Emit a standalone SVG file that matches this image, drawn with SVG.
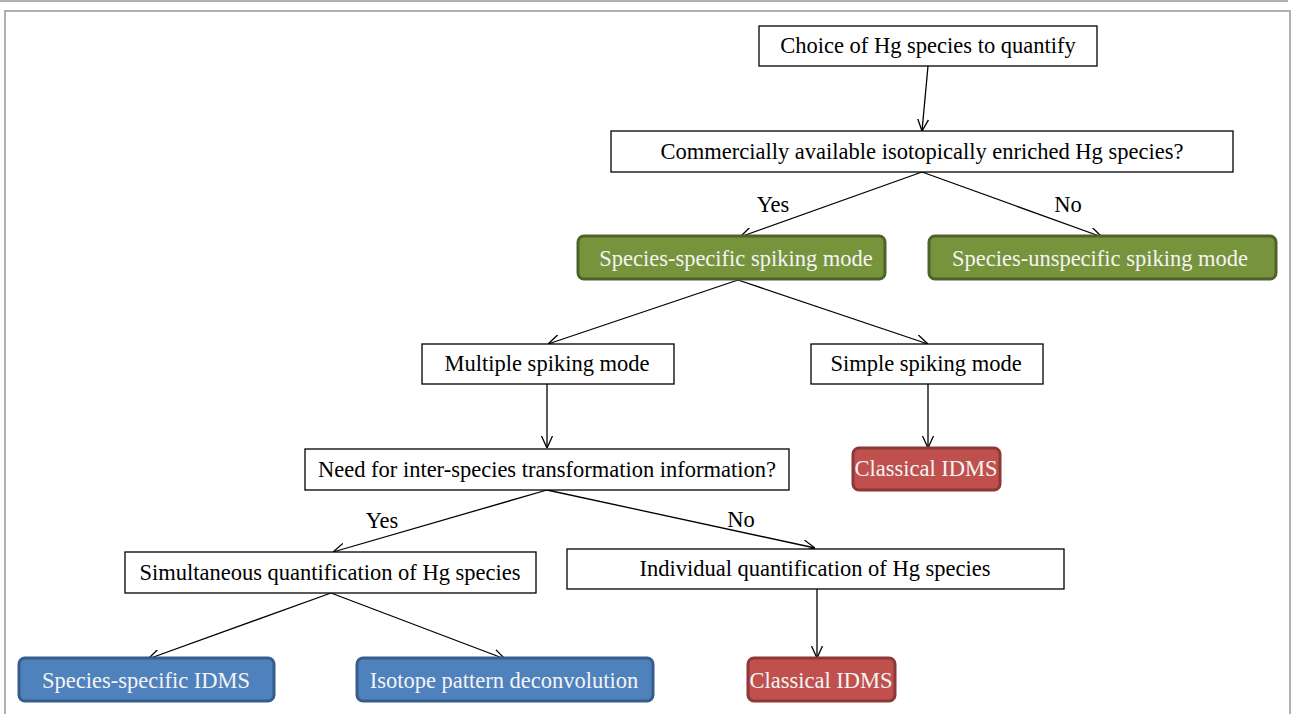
<svg xmlns="http://www.w3.org/2000/svg" width="1293" height="714" viewBox="0 0 1293 714">
<defs>
<marker id="arr" viewBox="0 0 12 12" refX="12" refY="6" markerWidth="12" markerHeight="12" markerUnits="userSpaceOnUse" orient="auto">
<path d="M0,0.5 L12,6 L0,11.5" fill="none" stroke="#000" stroke-width="1.3"/>
</marker>
</defs>
<style>
.box{fill:#fff;stroke:#000;stroke-width:1.3}
.green{fill:#77933c;stroke:#4f6228;stroke-width:3}
.red{fill:#c0504d;stroke:#8c3836;stroke-width:3}
.blue{fill:#4f81bd;stroke:#385d8a;stroke-width:3}
text{font-family:"Liberation Serif","Times New Roman",serif;font-size:22.5px;text-anchor:middle;fill:#000}
.w{fill:#f4f4f4}
.conn line{stroke:#000;stroke-width:1.3;marker-end:url(#arr)}
</style>
<rect x="0" y="0" width="1293" height="714" fill="#fff"/>
<line x1="0" y1="1" x2="1288" y2="1" stroke="#b0b0b0" stroke-width="2"/>
<path d="M5,714 L5,11 L1290,11 L1290,714" fill="none" stroke="#b0b0b0" stroke-width="2"/>

<g id="connectors" class="conn">
<line x1="928" y1="66" x2="922" y2="131"/>
<line x1="922" y1="172" x2="740" y2="237"/>
<line x1="922" y1="172" x2="1102" y2="237"/>
<line x1="738" y1="280" x2="548" y2="344"/>
<line x1="738" y1="280" x2="928" y2="344"/>
<line x1="547" y1="384" x2="547" y2="448"/>
<line x1="928" y1="384" x2="928" y2="448"/>
<line x1="547" y1="490" x2="333" y2="552"/>
<line x1="547" y1="490" x2="815" y2="548"/>
<line x1="331" y1="593" x2="148" y2="659"/>
<line x1="331" y1="593" x2="505" y2="659"/>
<line x1="817" y1="589" x2="817" y2="658"/>
</g>
<g id="labels">
<text x="773" y="212">Yes</text>
<text x="1068" y="212">No</text>
<text x="382" y="528">Yes</text>
<text x="741" y="527">No</text>
</g>

<g id="n1"><rect class="box" x="759" y="26" width="338" height="40"/><text x="928" y="53">Choice of Hg species to quantify</text></g>
<g id="n2"><rect class="box" x="611" y="131" width="622" height="41"/><text x="922" y="159">Commercially available isotopically enriched Hg species?</text></g>
<g id="n3"><rect class="green" x="578" y="236" width="307" height="43" rx="6"/><text class="w" x="736" y="266">Species-specific spiking mode</text></g>
<g id="n4"><rect class="green" x="929" y="236" width="347" height="43" rx="6"/><text class="w" x="1100" y="266">Species-unspecific spiking mode</text></g>
<g id="n5"><rect class="box" x="422" y="344" width="252" height="40"/><text x="547" y="371">Multiple spiking mode</text></g>
<g id="n6"><rect class="box" x="811" y="344" width="232" height="40"/><text x="926" y="371">Simple spiking mode</text></g>
<g id="n7"><rect class="box" x="305" y="449" width="484" height="41"/><text x="547" y="477">Need for inter-species transformation information?</text></g>
<g id="n8"><rect class="red" x="853" y="448" width="147" height="42" rx="6"/><text class="w" x="926" y="476">Classical IDMS</text></g>
<g id="n9"><rect class="box" x="125" y="552" width="411" height="41"/><text x="330" y="580">Simultaneous quantification of Hg species</text></g>
<g id="n10"><rect class="box" x="567" y="549" width="497" height="40"/><text x="815" y="576">Individual quantification of Hg species</text></g>
<g id="n11"><rect class="blue" x="19" y="658" width="255" height="43" rx="6"/><text class="w" x="146" y="688">Species-specific IDMS</text></g>
<g id="n12"><rect class="blue" x="357" y="658" width="296" height="43" rx="6"/><text class="w" x="504" y="688">Isotope pattern deconvolution</text></g>
<g id="n13"><rect class="red" x="748" y="658" width="147" height="43" rx="6"/><text class="w" x="821" y="688">Classical IDMS</text></g>
</svg>
